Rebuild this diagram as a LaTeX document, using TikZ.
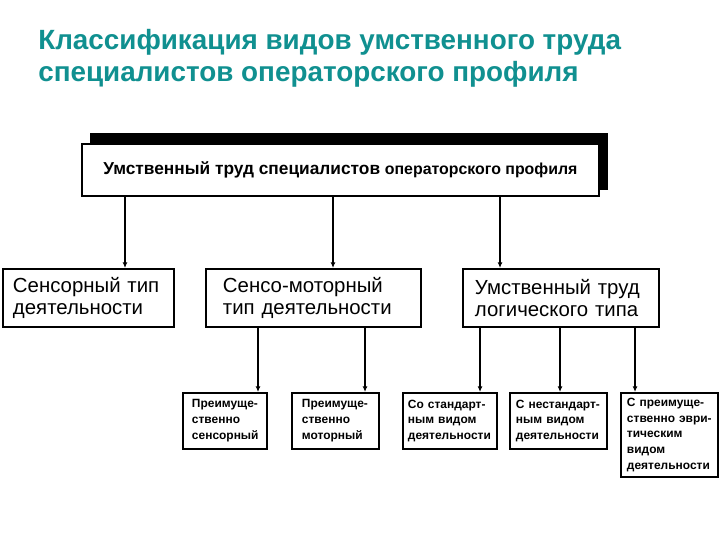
\documentclass[tikz,border=0pt]{standalone}
\usepackage{fontspec}
\setmainfont{Liberation Sans}
\usetikzlibrary{arrows.meta}
\definecolor{titleteal}{RGB}{16,144,144}
\begin{document}
\begin{tikzpicture}[x=0.025cm,y=-0.025cm,
      box/.style={draw, line width=1.4pt, fill=white, anchor=north west,
        align=left, inner ysep=0pt},
      midbox/.style={box, minimum height=1.45cm,
        font=\fontsize{14.5}{16.3}\selectfont},
      lowbox/.style={box, minimum height=1.4cm,
        font=\fontsize{8.5}{11.3}\selectfont\bfseries},
      arr/.style={line width=0.9pt, -{Latex[length=4pt,width=3.5pt]}}]
      \useasboundingbox (0,0) rectangle (720,540);
      % title
      \node[anchor=north west, align=left, text=titleteal, inner sep=0,
        font=\fontsize{19.8}{22.7}\selectfont\bfseries] (title) at (38,29)
        {Классификация видов умственного труда\\
         специалистов операторского профиля};
      % upper box with its shadow
      \fill (90,133) rectangle (608,190);
      \node[box, minimum width=12.925cm, minimum height=1.3cm, align=center,
        line width=1.2pt] (top) at (81,143)
        {\fontsize{12.3}{14}\selectfont\bfseries Умственный труд специалистов\
         \fontsize{11.3}{14}\selectfont\bfseries операторского профиля};
      % second row
      \node[midbox, inner xsep=0.25cm, text width=3.775cm] (sens) at (2,268)
        {Сенсорный тип\\деятельности};
      \node[midbox, inner xsep=0.425cm, text width=4.525cm] (motor) at (205,268)
        {Сенсо-моторный\\тип деятельности};
      \node[midbox, inner xsep=0.3cm, text width=4.3cm] (logic) at (462,268)
        {Умственный труд\\логического типа};
      % third row
      \node[lowbox, inner xsep=0.225cm, text width=1.65cm] (psens) at (182,392)
        {Преимуще-\\ственно\\сенсорный};
      \node[lowbox, inner xsep=0.25cm, text width=1.675cm] (pmot) at (291,392)
        {Преимуще-\\ственно\\моторный};
      \node[lowbox, inner xsep=0.125cm, text width=2.1cm] (std) at (402,392)
        {Со стандарт-\\ным видом\\деятельности};
      \node[lowbox, inner xsep=0.15cm, text width=2.125cm] (nstd) at (509,392)
        {С нестандарт-\\ным видом\\деятельности};
      \node[lowbox, inner xsep=0.15cm, text width=2.125cm,
        minimum height=2.1cm] (heur) at (620,392)
        {С преимуще-\\ственно эври-\\тическим\\видом\\деятельности};
      % connectors
      \coordinate (c1) at (125,0);
      \coordinate (c2) at (333,0);
      \coordinate (c3) at (500,0);
      \coordinate (c4) at (258,0);
      \coordinate (c5) at (365,0);
      \coordinate (c6) at (480,0);
      \coordinate (c7) at (560,0);
      \coordinate (c8) at (635,0);
      \draw[arr] (top.south -| c1) -- (sens.north -| c1);
      \draw[arr] (top.south -| c2) -- (motor.north -| c2);
      \draw[arr] (top.south -| c3) -- (logic.north -| c3);
      \draw[arr] (motor.south -| c4) -- (psens.north -| c4);
      \draw[arr] (motor.south -| c5) -- (pmot.north -| c5);
      \draw[arr] (logic.south -| c6) -- (std.north -| c6);
      \draw[arr] (logic.south -| c7) -- (nstd.north -| c7);
      \draw[arr] (logic.south -| c8) -- (heur.north -| c8);
\end{tikzpicture}
\end{document}
